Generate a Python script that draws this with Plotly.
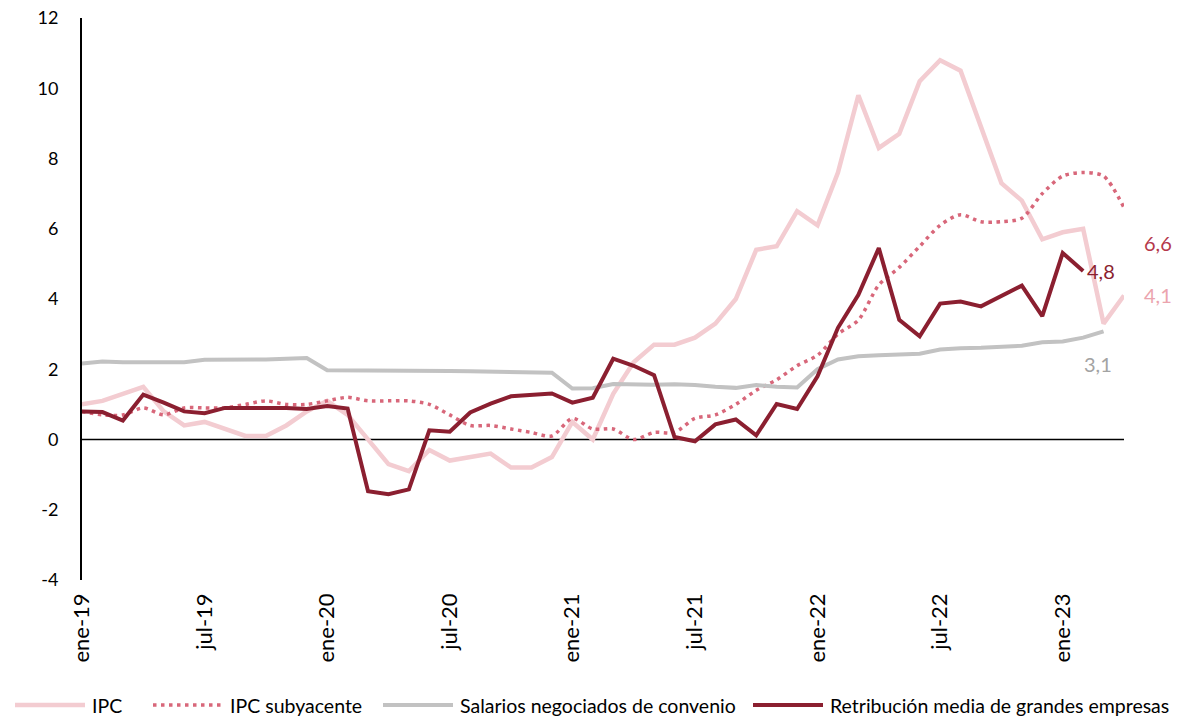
import plotly.graph_objects as go

MESES = ["ene", "feb", "mar", "abr", "may", "jun", "jul", "ago", "sep", "oct", "nov", "dic"]
months = [f"{m}-{y}" for y in ["19", "20", "21", "22", "23"] for m in MESES][:52]

ipc = [1.0, 1.1, 1.3, 1.5, 0.8, 0.4, 0.5, 0.3, 0.1, 0.1, 0.4, 0.8,
       1.1, 0.7, 0.0, -0.7, -0.9, -0.3, -0.6, -0.5, -0.4, -0.8, -0.8, -0.5,
       0.5, 0.0, 1.3, 2.2, 2.7, 2.7, 2.9, 3.3, 4.0, 5.4, 5.5, 6.5,
       6.1, 7.6, 9.8, 8.3, 8.7, 10.2, 10.8, 10.5, 8.9, 7.3, 6.8, 5.7,
       5.9, 6.0, 3.3, 4.1]

ipc_sub = [0.8, 0.7, 0.7, 0.9, 0.7, 0.9, 0.9, 0.9, 1.0, 1.1, 1.0, 1.0,
           1.1, 1.2, 1.1, 1.1, 1.1, 1.0, 0.7, 0.4, 0.4, 0.3, 0.2, 0.1,
           0.6, 0.3, 0.3, 0.0, 0.2, 0.2, 0.6, 0.7, 1.0, 1.4, 1.7, 2.1,
           2.4, 3.0, 3.4, 4.4, 4.9, 5.5, 6.1, 6.4, 6.2, 6.2, 6.3, 7.0,
           7.5, 7.6, 7.5, 6.6]

salarios = [2.16, 2.22, 2.20, 2.20, 2.21, 2.20, 2.27, 2.27, 2.27, 2.28, 2.30, 2.32,
            1.97, 1.97, 1.96, 1.96, 1.96, 1.96, 1.95, 1.94, 1.93, 1.92, 1.90, 1.90,
            1.45, 1.46, 1.58, 1.56, 1.56, 1.57, 1.55, 1.50, 1.47, 1.55, 1.50, 1.48,
            2.00, 2.28, 2.37, 2.40, 2.42, 2.44, 2.56, 2.60, 2.61, 2.63, 2.67, 2.77,
            2.79, 2.90, 3.08]

retribucion = [0.80, 0.78, 0.54, 1.28, 1.05, 0.80, 0.75, 0.90, 0.90, 0.90, 0.90, 0.87,
               0.95, 0.88, -1.47, -1.56, -1.42, 0.26, 0.22, 0.77, 1.02, 1.23, 1.28, 1.31,
               1.05, 1.19, 2.30, 2.10, 1.83, 0.07, -0.05, 0.43, 0.57, 0.12, 1.01, 0.87,
               1.80, 3.18, 4.12, 5.45, 3.41, 2.94, 3.87, 3.93, 3.79, 4.10, 4.38, 3.51,
               5.31, 4.80]

series_names = ["IPC", "IPC subyacente", "Salarios negociados de convenio",
                "Retribución media de grandes empresas"]
tick_labels = ["ene-19", "jul-19", "ene-20", "jul-20", "ene-21", "jul-21", "ene-22", "jul-22", "ene-23"]
y_ticks = [-4, -2, 0, 2, 4, 6, 8, 10, 12]
y_tick_text = ["-4", "-2", "0", "2", "4", "6", "8", "10", "12"]

C_IPC = "#f3ccd1"
C_SUB = "#d8677a"
C_SAL = "#c2c2c2"
C_RET = "#8b1f30"
FONT = "Lato"
DOT = "3.5px,4.5px"

styles = [dict(color=C_IPC, width=4.5),
          dict(color=C_SUB, width=3.5, dash=DOT),
          dict(color=C_SAL, width=4),
          dict(color=C_RET, width=4)]

fig = go.Figure()
fig.add_trace(go.Scatter(x=months[:len(ipc)], y=ipc, name=series_names[0], mode="lines",
                         line=styles[0]))
fig.add_trace(go.Scatter(x=months[:len(ipc_sub)], y=ipc_sub, name=series_names[1], mode="lines",
                         line=dict(**styles[1], shape="spline", smoothing=0.8)))
fig.add_trace(go.Scatter(x=months[:len(salarios)], y=salarios, name=series_names[2],
                         mode="lines", line=styles[2]))
fig.add_trace(go.Scatter(x=months[:len(retribucion)], y=retribucion, name=series_names[3],
                         mode="lines", line=styles[3]))

# zero line
fig.add_shape(type="line", xref="x", yref="y", x0=months[0], x1=months[len(ipc) - 1], y0=0, y1=0,
              line=dict(color="black", width=1.5), layer="below")

def lab(xi, yv, text, color, xshift, yshift):
    fig.add_annotation(x=months[xi], y=yv, text=text, showarrow=False, xanchor="left",
                       xshift=xshift, yshift=yshift, font=dict(family=FONT, size=20, color=color))

lab(len(ipc_sub) - 1, ipc_sub[-1], "6,6", "#b5374a", 18, -35)
lab(len(retribucion) - 1, retribucion[-1], "4,8", C_RET, 2, 0)
lab(len(ipc) - 1, ipc[-1], "4,1", "#eba4ae", 18, 0)
lab(len(salarios) - 1, salarios[-1], "3,1", "#a3a3a3", -22, -33)

# legend drawn below the plot (sample line + label), positions in pixels of the figure
PLOT_L, PLOT_W, PLOT_B, PLOT_H = 74, 1042, 572, 562
leg_y = -(697 - PLOT_B) / PLOT_H
leg_starts = [7, 145, 375, 745]
for name, st, x0 in zip(series_names, styles, leg_starts):
    px0 = (x0 - PLOT_L) / PLOT_W
    px1 = (x0 + 70 - PLOT_L) / PLOT_W
    fig.add_shape(type="line", xref="paper", yref="paper", x0=px0, x1=px1, y0=leg_y, y1=leg_y,
                  line=st)
    fig.add_annotation(xref="paper", yref="paper", x=(x0 + 75 - PLOT_L) / PLOT_W, y=leg_y,
                       text=name, showarrow=False, xanchor="left", yanchor="middle",
                       font=dict(family=FONT, size=19.5, color="black"))

fig.update_layout(
    width=1187, height=708,
    margin=dict(l=74, r=71, t=10, b=136, autoexpand=False),
    paper_bgcolor="white", plot_bgcolor="white",
    font=dict(family=FONT, size=17, color="black"),
    showlegend=False,
    xaxis=dict(type="category", categoryorder="array", categoryarray=months,
               range=[0, len(ipc) - 1], tickmode="array", tickvals=tick_labels, ticktext=tick_labels,
               tickangle=-90, showgrid=False, zeroline=False, showline=False, ticks="",
               automargin=False, ticklabelstandoff=8, ticklabeloverflow="allow",
               tickfont=dict(family=FONT, size=22)),
    yaxis=dict(range=[-4, 12], tickmode="array", tickvals=y_ticks, ticktext=y_tick_text,
               showgrid=False, zeroline=False, automargin=False,
               showline=True, linecolor="black", linewidth=2, ticks="",
               ticklabelstandoff=18, ticklabeloverflow="allow", tickfont=dict(family=FONT, size=18)),
)

fig.write_html("out.html")
